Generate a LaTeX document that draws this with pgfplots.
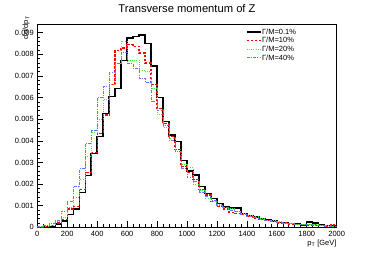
\documentclass[border=0pt]{standalone}
\usepackage{fontspec}
\setmainfont{Liberation Sans}
\usepackage{pgfplots}
\usepackage{pgfplotstable}
\pgfplotsset{compat=1.18}
\pgfplotstableread{
x     k     r     g     b
0     0.00  0.01  0.02  0.03
40    0.02  0.03  0.05  0.08
80    0.05  0.08  0.10  0.18
120   0.15  0.20  0.25  0.32
160   0.30  0.35  0.45  0.75
200   0.60  0.85  0.90  1.20
240   0.85  0.95  1.40  1.90
280   1.60  1.75  2.20  2.70
320   2.40  2.55  3.30  3.90
360   3.40  3.45  4.40  4.50
400   4.20  4.35  5.00  6.00
440   5.27  5.20  5.90  6.50
480   6.04  6.60  6.60  7.15
520   6.43  8.18  7.60  7.60
560   7.71  8.30  8.60  8.10
600   8.75  8.44  7.72  7.60
640   8.82  8.37  7.72  7.35
680   8.90  8.06  7.25  6.90
720   8.49  7.60  7.20  6.70
760   7.47  6.60  6.40  5.80
800   6.00  5.50  5.20  5.40
840   4.89  4.80  4.60  4.70
880   4.27  4.20  4.10  4.00
920   3.96  3.60  3.50  3.50
960   3.10  2.80  2.90  2.70
1000  2.60  2.55  2.75  2.30
1040  2.42  2.20  2.00  2.10
1080  1.88  1.75  1.70  1.60
1120  1.57  1.50  1.35  1.45
1160  1.34  1.20  1.20  1.25
1200  1.10  0.95  1.05  1.00
1240  0.93  0.85  0.90  0.90
1280  0.90  0.70  0.85  0.80
1320  0.90  0.65  0.75  0.75
1360  0.65  0.60  0.65  0.60
1400  0.55  0.50  0.55  0.50
1440  0.47  0.42  0.50  0.45
1480  0.40  0.35  0.40  0.38
1520  0.34  0.30  0.33  0.33
1560  0.30  0.28  0.30  0.28
1600  0.22  0.20  0.25  0.22
1640  0.20  0.20  0.20  0.20
1680  0.18  0.15  0.17  0.16
1720  0.15  0.13  0.14  0.14
1760  0.10  0.12  0.12  0.12
1800  0.25  0.10  0.15  0.12
1840  0.20  0.10  0.12  0.10
1880  0.10  0.08  0.10  0.08
1920  0.08  0.05  0.07  0.06
1960  0.06  0.10  0.06  0.05
2000  0.06  0.10  0.06  0.05
}\histdata
\definecolor{rootgreen}{RGB}{60,235,60}
\definecolor{rootblue}{RGB}{110,110,255}
\begin{document}
\begin{tikzpicture}
\begin{axis}[
  name=ax,
  scale only axis,
  width=299.4pt, height=203pt,
  xmin=0, xmax=2000, ymin=0, ymax=9.39,
  xtick={0,200,...,2000},
  ytick={0,1,2,3,4,5,6,7,8,9},
  yticklabels={0,0.001,0.002,0.003,0.004,0.005,0.006,0.007,0.008,0.009},
  minor x tick num=4, minor y tick num=4,
  tick align=inside, xtick pos=left, ytick pos=left,
  major tick length=6pt, minor tick length=3pt,
  axis line style={line width=0.6pt},
  tick style={line width=0.6pt, black},
  ticklabel style={font=\fontsize{7.5}{8}\selectfont},
  /pgf/number format/assume math mode=true,
  /pgf/number format/set thousands separator={},
  scaled x ticks=false,
  every axis title shift=0pt,
  title={Transverse momentum of Z},
  title style={font=\fontsize{11.2}{12}\selectfont, at={(rel axis cs:0.5,1)}, anchor=base, yshift=11.6pt, inner sep=0pt},
  xlabel={p\textsubscript{T} [GeV]},
  xlabel style={font=\fontsize{7.5}{8}\selectfont, at={(rel axis cs:1,0)}, anchor=north east, yshift=-12.5pt, inner sep=0pt},
  legend style={at={(rel axis cs:0.697,0.985)}, anchor=north west, draw=none, fill=none, inner sep=0pt,
    font=\fontsize{7.5}{8}\selectfont, row sep=0pt,
    nodes={inner sep=0.5pt, text height=6pt, text depth=1.67pt}},
  legend cell align=left,
  legend image code/.code={\draw[#1] (0pt,0pt) -- (14pt,0pt);},
]
\addplot[const plot, black, line width=1.4pt] table[x=x, y=k] {\histdata};
\addlegendentry{Γ/M=0.1\%}
\addplot[const plot, red, line width=1.3pt, dash pattern=on 2.5pt off 1.5pt] table[x=x, y=r] {\histdata};
\addlegendentry{Γ/M=10\%}
\addplot[const plot, rootgreen, line width=0.9pt, dash pattern=on 1pt off 1.2pt] table[x=x, y=g] {\histdata};
\addlegendentry{Γ/M=20\%}
\addplot[const plot, rootblue, line width=0.9pt, dash pattern=on 3pt off 1.2pt on 1pt off 1.2pt] table[x=x, y=b] {\histdata};
\addlegendentry{Γ/M=40\%}
\end{axis}
\node[rotate=90, anchor=south east, inner sep=0pt, font=\fontsize{7.5}{8}\selectfont]
  at ([xshift=-7.3pt,yshift=8.3pt]ax.north west) {dσ/dp\textsubscript{T}};
\path (ax.south west)++(-37.3pt,-25.7pt) coordinate (bl);
\path (ax.north east)++(37.3pt,24.3pt) coordinate (tr);
\path[use as bounding box] (bl) rectangle (tr);
\end{tikzpicture}
\end{document}
